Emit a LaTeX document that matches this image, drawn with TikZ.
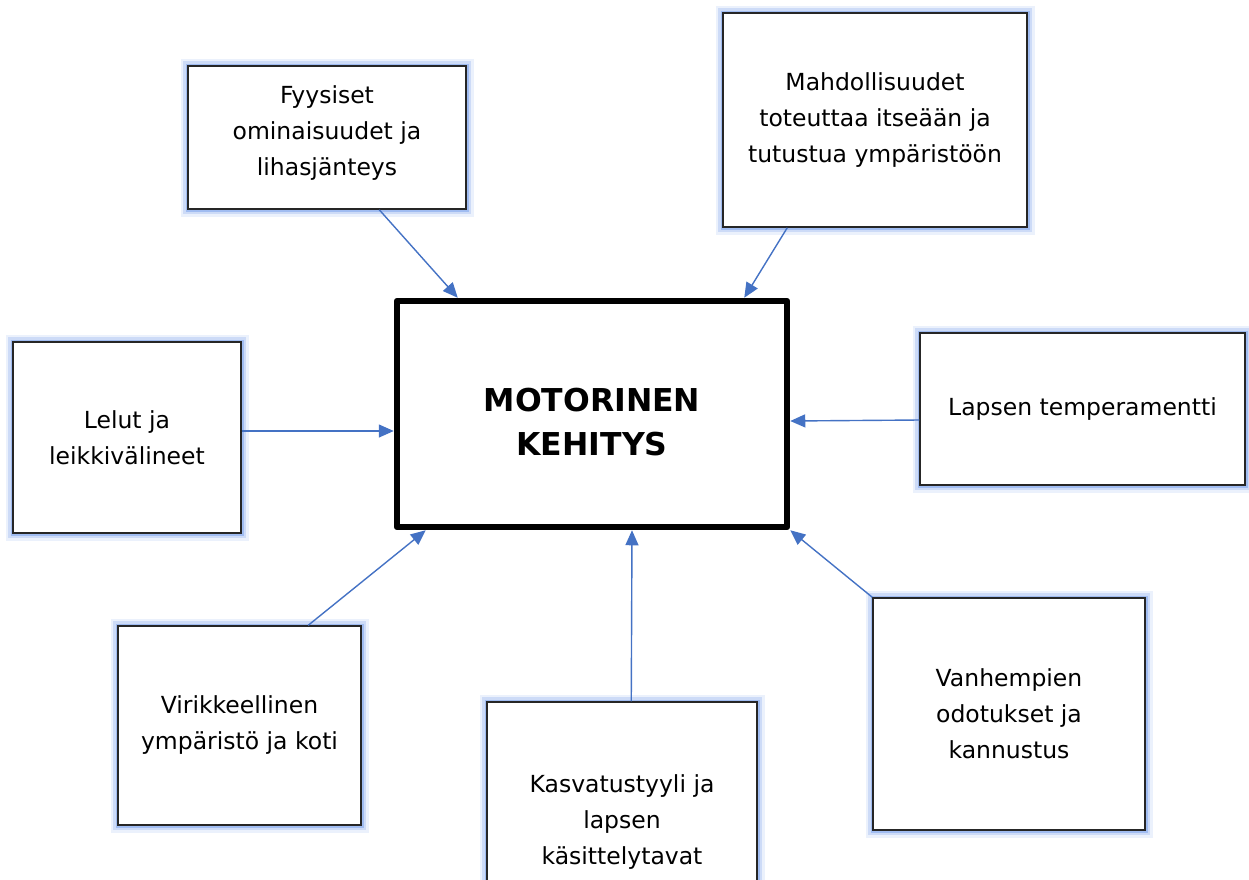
\documentclass[tikz,border=0pt]{standalone}
\usepackage{fontspec}
\setmainfont{DejaVu Sans}
\usetikzlibrary{arrows.meta}
\definecolor{arrowblue}{HTML}{4472C4}
\definecolor{glowblue}{HTML}{8FB0EE}
\begin{document}
\begin{tikzpicture}[x=1pt, y=-1pt, font=\fontsize{23.5}{36}\selectfont]
    \tikzstyle{factor} = [rectangle, draw=black!85, line width=1.5pt, fill=white, align=center, inner sep=0pt,
        preaction={draw=glowblue!18, line width=15pt}, preaction={draw=glowblue!45, line width=10pt},
        preaction={draw=glowblue!85, line width=5pt}]
    \tikzstyle{link} = [-{Triangle[length=15pt, width=13pt]}, draw=arrowblue, line width=1.4pt]
    \useasboundingbox (0,0) rectangle (1249,879);
    \node [draw, line width=6.5pt, line join=round, minimum width=390pt, minimum height=226pt, inner sep=0pt, align=center, text height=84pt, font=\bfseries\fontsize{31.5}{44}\selectfont] (cen) at (592,414) {MOTORINEN\\KEHITYS};
    \node [factor, minimum width=278pt, minimum height=143pt, text depth=14pt] (fy) at (327,137.5) {Fyysiset\\ominaisuudet ja\\lihasjänteys};
    \node [factor, minimum width=304pt, minimum height=214pt] (mah) at (875,120) {Mahdollisuudet\\toteuttaa itseään ja\\tutustua ympäristöön};
    \node [factor, minimum width=228pt, minimum height=191pt] (le) at (127,437.5) {Lelut ja\\leikkivälineet};
    \node [factor, minimum width=325pt, minimum height=152pt] (lap) at (1082.5,409) {Lapsen temperamentti};
    \node [factor, minimum width=243pt, minimum height=199pt] (vir) at (239.5,725.5) {Virikkeellinen\\ympäristö ja koti};
    \node [factor, minimum width=270pt, minimum height=240pt] (kas) at (622,822) {Kasvatustyyli ja\\lapsen\\käsittelytavat};
    \node [factor, minimum width=272pt, minimum height=232pt] (van) at (1009,714) {Vanhempien\\odotukset ja\\kannustus};

    \draw [link] ([xshift=192pt]fy.south west) -- ([xshift=64pt]cen.north west);
    \draw [link] ([xshift=65pt]mah.south west) -- ([xshift=-46pt]cen.north east);
    \draw [link] ([yshift=6.5pt]le.east) -- ([yshift=-17pt]cen.west);
    \draw [link] ([yshift=-11pt]lap.west) -- ([yshift=-7pt]cen.east);
    \draw [link] ([xshift=191pt]vir.north west) -- ([xshift=32pt]cen.south west);
    \draw [link] ([xshift=145pt]kas.north west) -- ([xshift=40pt]cen.south);
    \draw [link] (van.north west) -- (cen.south east);
\end{tikzpicture}
\end{document}
